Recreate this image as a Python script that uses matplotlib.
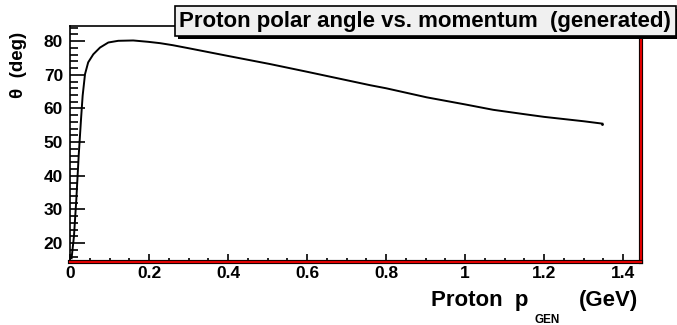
import matplotlib
matplotlib.use("Agg")
import matplotlib.pyplot as plt
import matplotlib.patheffects as pe
from matplotlib.ticker import MultipleLocator

plt.rcParams['font.family'] = ['Liberation Sans', 'DejaVu Sans']

# proton polar angle profile vs generated momentum
p_gen = [0.004, 0.010, 0.016, 0.022, 0.028, 0.032, 0.038, 0.046, 0.059, 0.076,
         0.097, 0.122, 0.160, 0.198, 0.228, 0.260, 0.300, 0.400, 0.506, 0.600,
         0.700, 0.760, 0.800, 0.903, 1.000, 1.071, 1.150, 1.200, 1.300, 1.347]
theta = [15.5, 22.0, 33.0, 46.0, 57.0, 63.8, 70.2, 73.7, 76.1, 78.1,
         79.6, 80.1, 80.2, 79.8, 79.4, 78.8, 77.9, 75.6, 73.2, 70.9,
         68.4, 66.9, 66.0, 63.3, 61.2, 59.6, 58.3, 57.5, 56.2, 55.5]

fig = plt.figure(figsize=(6.77, 3.25), dpi=100)
ax = fig.add_axes([0.1034, 0.194, 0.8434, 0.726])

ax.plot(p_gen, theta, color='black', linewidth=1.4)
ax.plot(p_gen[-1], theta[-1], 'k.', markersize=2)

ax.set_xlim(0, 1.445)
ax.set_ylim(14.4, 84.5)

ax.xaxis.set_minor_locator(MultipleLocator(0.05))
ax.yaxis.set_minor_locator(MultipleLocator(2))
ax.set_yticks([20, 30, 40, 50, 60, 70, 80])
ax.set_xticks([0, 0.2, 0.4, 0.6, 0.8, 1.0, 1.2, 1.4])
ax.set_xticklabels(['0', '0.2', '0.4', '0.6', '0.8', '1', '1.2', '1.4'])

ax.tick_params(axis='both', which='both', direction='in', top=False, right=False,
               labelsize=12.5, width=1.2, colors='black')
ax.tick_params(axis='x', which='major', length=6, pad=3)
ax.tick_params(axis='x', which='minor', length=3)
ax.tick_params(axis='y', which='major', length=11, pad=5)
ax.tick_params(axis='y', which='minor', length=6)
for lab in ax.get_xticklabels() + ax.get_yticklabels():
    lab.set_fontweight('bold')

# frame: thin black left/top, red bottom/right
ax.spines['left'].set_linewidth(1.2)
ax.spines['top'].set_linewidth(1.2)
for side in ['bottom', 'right']:
    ax.spines[side].set_color('#e00000')
    ax.spines[side].set_linewidth(1.6)
    ax.spines[side].set_path_effects([pe.Stroke(linewidth=3.0, foreground='black'), pe.Normal()])

# title box with drop shadow
fig.text(0.9915, 0.935, 'Proton polar angle vs. momentum  (generated)',
         ha='right', va='center', fontsize=16, fontweight='bold',
         bbox=dict(boxstyle='square,pad=0.2', facecolor='#f0f0f0', edgecolor='black',
                   linewidth=1.2,
                   path_effects=[pe.SimplePatchShadow(offset=(2, -2), shadow_rgbFace='black',
                                                      alpha=1.0), pe.Normal()]))

fig.text(0.028, 0.80, '\u03b8  (deg)', rotation=90, ha='center', va='center',
         fontsize=13.5, fontweight='bold')

# x axis title with subscript
fig.text(0.780, 0.058, 'Proton  p', ha='right', va='baseline',
         fontsize=16, fontweight='bold')
fig.text(0.790, 0.006, 'GEN', ha='left', va='baseline',
         fontsize=8.5, fontweight='bold')
fig.text(0.9424, 0.058, '(GeV)', ha='right', va='baseline',
         fontsize=16, fontweight='bold')

fig.savefig('out.png', dpi=100)
